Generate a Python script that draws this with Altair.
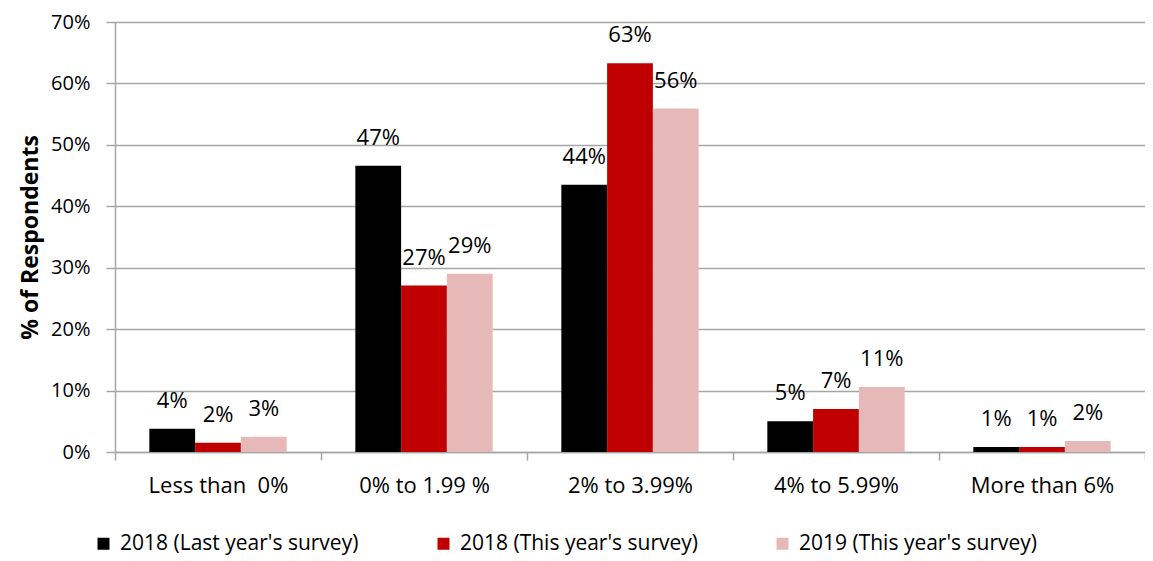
import altair as alt
import pandas as pd

categories = ["Less than \u00a00%", "0% to 1.99 %", "2% to 3.99%", "4% to 5.99%", "More than 6%"]
series = ["2018 (Last year's survey)", "2018 (This year's survey)", "2019 (This year's survey)"]
last_2018 = [3.8, 46.6, 43.5, 5.0, 0.8]
this_2018 = [1.5, 27.1, 63.3, 7.0, 0.8]
this_2019 = [2.5, 29.0, 55.9, 10.6, 1.8]
labels_last_2018 = ["4%", "47%", "44%", "5%", "1%"]
labels_this_2018 = ["2%", "27%", "63%", "7%", "1%"]
labels_this_2019 = ["3%", "29%", "56%", "11%", "2%"]
colors = ["#000000", "#C00000", "#E6B9B8"]
y_ticks = [0, 10, 20, 30, 40, 50, 60, 70]

rows = []
for s, vals, labs in zip(series, [last_2018, this_2018, this_2019],
                         [labels_last_2018, labels_this_2018, labels_this_2019]):
    for c, v, l in zip(categories, vals, labs):
        rows.append({"category": c, "series": s, "value": v, "label": l})
df = pd.DataFrame(rows)

FONT = "Open Sans"
GRAY = "#A6A6A6"

base = alt.Chart(df).encode(
    x=alt.X("category:N", sort=categories,
            scale=alt.Scale(paddingInner=0, paddingOuter=0),
            axis=alt.Axis(title=None, tickBand="extent", labelAngle=0,
                          labelFont=FONT, labelFontSize=22, labelColor="black",
                          labelPadding=15, tickSize=8, tickColor=GRAY,
                          domainColor=GRAY, tickWidth=1.5, domainWidth=1.5, grid=False)),
    xOffset=alt.XOffset("series:N", sort=series,
                        scale=alt.Scale(paddingInner=0, paddingOuter=0.75)),
    y=alt.Y("value:Q", scale=alt.Scale(domain=[0, 70], nice=False),
            axis=alt.Axis(values=y_ticks, labelExpr="datum.value + '%'",
                          title="% of Respondents", titleFont=FONT, titleFontSize=23,
                          titleFontWeight="bold", titleColor="black", titlePadding=8,
                          labelFont=FONT, labelFontSize=20, labelColor="black",
                          labelPadding=16, tickSize=9, tickColor=GRAY, tickWidth=1.5,
                          domainColor=GRAY, domainWidth=1.5,
                          grid=True, gridColor=GRAY, gridWidth=1.5)),
)

bars = base.mark_bar().encode(
    color=alt.Color("series:N", sort=series,
                    scale=alt.Scale(domain=series, range=colors),
                    legend=alt.Legend(title=None, orient="none", direction="horizontal",
                                      legendX=-22, legendY=511, padding=0,
                                      symbolType="square", symbolSize=144,
                                      symbolStrokeWidth=0, symbolOpacity=1,
                                      labelFont=FONT, labelFontSize=21,
                                      labelColor="black", labelOffset=6,
                                      columnPadding=74, labelLimit=400)),
)

text = base.mark_text(baseline="bottom", dy=-16, font=FONT, fontSize=22,
                      color="black").encode(text="label:N")

chart = (bars + text).properties(
    width=1030, height=430,
    autosize=alt.AutoSizeParams(type="none"),
    padding={"left": 107, "top": 14, "right": 0, "bottom": 109},
).configure_view(stroke=None).configure(background="white")

chart.save("out.html", embed_options={"renderer": "svg", "actions": False})
